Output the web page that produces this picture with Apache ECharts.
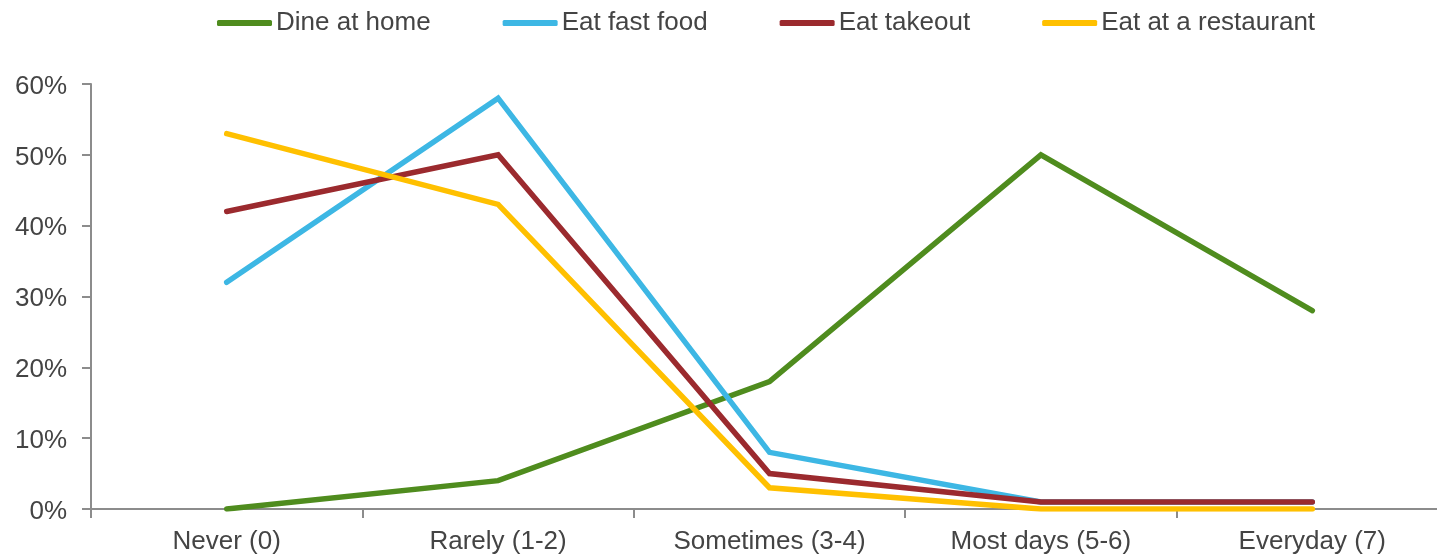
<!DOCTYPE html>
<html>
<head>
<meta charset="utf-8">
<script src="https://cdn.jsdelivr.net/npm/echarts@6/dist/echarts.min.js"></script>
<style>
  html, body { margin: 0; padding: 0; background: #ffffff; overflow: hidden; }
  #chart { width: 1460px; height: 556px; }
</style>
</head>
<body>
<div id="chart"></div>
<script>
// Frequency of each eating habit
const categories = ['Never (0)', 'Rarely (1-2)', 'Sometimes (3-4)', 'Most days (5-6)', 'Everyday (7)'];
const seriesNames = ['Dine at home', 'Eat fast food', 'Eat takeout', 'Eat at a restaurant'];
const dineAtHome = [0, 4, 18, 50, 28];
const eatFastFood = [32, 58, 8, 1, 1];
const eatTakeout = [42, 50, 5, 1, 1];
const eatAtRestaurant = [53, 43, 3, 0, 0];
const yTicks = [0, 10, 20, 30, 40, 50, 60];

const colors = ['#4F8C1E', '#3DB7E4', '#9B2A2E', '#FFC000'];
const values = [dineAtHome, eatFastFood, eatTakeout, eatAtRestaurant];
const font = '"Liberation Sans", Arial, sans-serif';
const textColor = '#444444';
const axisColor = '#8c8c8c';

const chart = echarts.init(document.getElementById('chart'), null, { renderer: 'canvas' });

chart.setOption({
  animation: false,
  backgroundColor: '#ffffff',
  color: colors,
  textStyle: { fontFamily: font },
  legend: {
    left: 217,
    top: 10,
    padding: 0,
    icon: 'roundRect',
    itemWidth: 55,
    itemHeight: 6,
    itemGap: 72,
    textStyle: { fontSize: 26, color: textColor, fontFamily: font, padding: [0, 0, 0, -1] },
    data: seriesNames
  },
  grid: { left: 91, top: 84, width: 1357, height: 425, containLabel: false },
  xAxis: {
    type: 'category',
    data: categories,
    boundaryGap: true,
    axisLine: { show: true, lineStyle: { color: axisColor, width: 2 } },
    axisTick: { show: true, length: 9, alignWithLabel: false, lineStyle: { color: axisColor, width: 2 } },
    axisLabel: { margin: 20, fontSize: 26, color: textColor, fontFamily: font, interval: 0 },
    splitLine: { show: false }
  },
  yAxis: {
    type: 'value',
    min: yTicks[0],
    max: yTicks[yTicks.length - 1],
    interval: 10,
    axisLine: { show: true, lineStyle: { color: axisColor, width: 2 } },
    axisTick: { show: true, length: 9, lineStyle: { color: axisColor, width: 2 } },
    axisLabel: {
      margin: 24,
      color: textColor,
      fontFamily: font,
      fontSize: 26,
      formatter: v => '{p|' + v + '%}',
      rich: { p: { fontSize: 26, color: textColor, fontFamily: font, padding: [5, 0, 0, 0] } }
    },
    splitLine: { show: false }
  },
  series: seriesNames.map((name, i) => ({
    name: name,
    type: 'line',
    data: values[i],
    showSymbol: false,
    symbol: 'none',
    z: 2 + i,
    lineStyle: { color: colors[i], width: 5.5, cap: 'round', join: 'miter' },
    itemStyle: { color: colors[i] }
  }))
});
</script>
</body>
</html>
